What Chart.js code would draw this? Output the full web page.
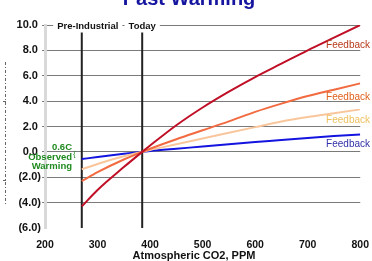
<!DOCTYPE html>
<html>
<head>
<meta charset="utf-8">
<script src="https://cdn.jsdelivr.net/npm/chart.js@4"></script>
<style>
  html, body { margin: 0; padding: 0; background: #fff; }
  .wrap { position: relative; width: 372px; height: 261px; }
</style>
</head>
<body>
<div class="wrap"><canvas id="warmChart"></canvas></div>
<script>
// CO2 levels (ppm) and warming (C) per feedback strength
const co2 = [270, 300, 350, 385, 400, 450, 500, 550, 600, 650, 700, 750, 800];
const strongFeedback = [-4.3, -3.0, -1.2, 0, 0.5, 2.1, 3.5, 4.75, 5.9, 6.95, 8.0, 9.0, 10.0];
const highFeedback = [-2.3, -1.6, -0.6, 0, 0.25, 1.0, 1.7, 2.4, 3.15, 3.8, 4.4, 4.9, 5.4];
const midFeedback = [-1.38, -0.95, -0.35, 0, 0.15, 0.6, 1.05, 1.5, 1.95, 2.4, 2.75, 3.05, 3.35];
const lowFeedback = [-0.57, -0.4, -0.15, 0, 0.07, 0.25, 0.42, 0.6, 0.78, 0.93, 1.1, 1.25, 1.37];

const markerCO2 = [270, 385];
const markerLabels = ["Pre-Industrial", "Today"];
const markerTop = 9.4;

const yTicks = [10, 8, 6, 4, 2, 0, -2, -4, -6];
const xTicks = [200, 300, 400, 500, 600, 700, 800];

const toPoints = (vals) => vals.map((v, i) => ({ x: co2[i], y: v }));

const feedbackSets = [
  { data: strongFeedback, color: "#c01028", text: "#b83a1a", dy: 20 },
  { data: highFeedback, color: "#f26a40", text: "#e0601c", dy: 14 },
  { data: midFeedback, color: "#f9c69c", text: "#eec060", dy: 11 },
  { data: lowFeedback, color: "#1414e0", text: "#3030a8", dy: 10 },
];

const datasets = feedbackSets.map((s) => ({
  data: toPoints(s.data),
  borderColor: s.color,
  borderWidth: 2,
  pointRadius: 0,
  cubicInterpolationMode: "monotone",
  labelColor: s.text,
  labelOffset: s.dy,
}));

markerCO2.forEach((c) => {
  datasets.push({
    data: [{ x: c, y: -6 }, { x: c, y: markerTop }],
    borderColor: "#222",
    borderWidth: 2,
    pointRadius: 0,
    isMarker: true,
  });
});

// extra text: title, marker labels, feedback labels, annotation
const decorations = {
  id: "decorations",
  afterDatasetsDraw(chart) {
    const { ctx, scales } = chart;
    const x = scales.x, y = scales.y;
    ctx.save();

    // title (cut off at the top)
    ctx.fillStyle = "#1515a0";
    ctx.font = "bold 20px 'Liberation Sans', Arial, sans-serif";
    ctx.textAlign = "center";
    ctx.textBaseline = "alphabetic";
    ctx.fillText("Past Warming", 189, 5);

    // marker labels sitting on the top grid line
    ctx.font = "bold 9.5px 'Liberation Sans', Arial, sans-serif";
    ctx.textBaseline = "middle";
    const shifts = [6, 0];
    markerCO2.forEach((c, i) => {
      const px = x.getPixelForValue(c) + shifts[i];
      const py = y.getPixelForValue(10);
      const w = ctx.measureText(markerLabels[i]).width;
      ctx.fillStyle = "#fff";
      ctx.fillRect(px - w / 2 - 4, py - 6, w + 8, 12);
      ctx.fillStyle = "#111";
      ctx.fillText(markerLabels[i], px, py + 1);
    });

    // feedback labels at the right end
    ctx.font = "10px 'Liberation Sans', Arial, sans-serif";
    ctx.textAlign = "right";
    chart.data.datasets.forEach((ds) => {
      if (ds.isMarker) return;
      const last = ds.data[ds.data.length - 1];
      ctx.fillStyle = ds.labelColor;
      ctx.fillText("Feedback", 370, y.getPixelForValue(last.y) + ds.labelOffset);
    });

    // observed warming note
    ctx.fillStyle = "#1f8a1f";
    ctx.font = "bold 9.5px 'Liberation Sans', Arial, sans-serif";
    ctx.fillText("0.6C", 72, 147);
    ctx.fillText("Observed", 72, 157);
    ctx.fillText("Warming", 72, 166);
    ctx.font = "8px 'Liberation Sans', Arial, sans-serif";
    ctx.textAlign = "left";
    ctx.fillText("{", 73, 154);

    // x axis title
    ctx.fillStyle = "#111";
    ctx.font = "bold 11px 'Liberation Sans', Arial, sans-serif";
    ctx.textAlign = "center";
    ctx.fillText("Atmospheric CO2, PPM", 194, 256);

    // leftover dashed axis stub
    ctx.strokeStyle = "#666";
    ctx.lineWidth = 1;
    ctx.setLineDash([3, 2, 1, 2]);
    ctx.beginPath();
    ctx.moveTo(5.5, 62);
    ctx.lineTo(5.5, 205);
    ctx.stroke();
    ctx.setLineDash([]);
    ctx.beginPath();
    ctx.moveTo(3, 101.5); ctx.lineTo(6, 101.5);
    ctx.moveTo(3, 180.5); ctx.lineTo(6, 180.5);
    ctx.stroke();

    ctx.restore();
  },
};

const fmtY = (v) => (v < 0 ? "(" + Math.abs(v).toFixed(1) + ")" : v.toFixed(1) + " ");

new Chart(document.getElementById("warmChart"), {
  type: "line",
  data: { datasets },
  options: {
    responsive: true,
    maintainAspectRatio: false,
    animation: false,
    layout: { padding: { left: 0, right: 10, top: 25, bottom: 0 } },
    plugins: { legend: { display: false }, tooltip: { enabled: false } },
    scales: {
      x: {
        type: "linear",
        min: 200,
        max: 800,
        afterBuildTicks: (s) => { s.ticks = xTicks.map((v) => ({ value: v })); },
        afterFit: (s) => { s.height = 33; },
        grid: { display: false },
        border: { display: false },
        ticks: {
          padding: 3,
          color: "#111",
          font: { family: "'Liberation Sans', Arial", size: 10.5, weight: "bold" },
        },
      },
      y: {
        min: -6,
        max: 10,
        afterBuildTicks: (s) => { s.ticks = yTicks.map((v) => ({ value: v })); },
        afterFit: (s) => { s.width = 45; },
        grid: {
          color: (c) => (c.tick && c.tick.value === -6 ? "rgba(0,0,0,0)" : "#7a7a7a"),
          lineWidth: 1,
          tickLength: 3,
        },
        border: { color: "#d9d9d9", width: 3 },
        ticks: {
          padding: 1,
          color: "#111",
          font: { family: "'Liberation Sans', Arial", size: 11, weight: "bold" },
          callback: fmtY,
        },
      },
    },
  },
  plugins: [decorations],
});
</script>
</body>
</html>
